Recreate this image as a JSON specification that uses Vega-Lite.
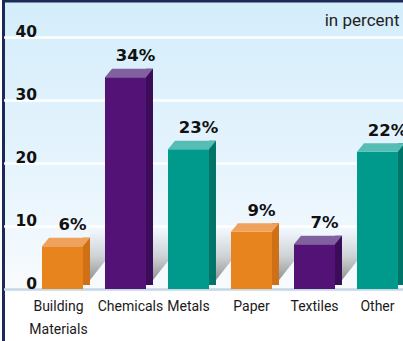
{
  "$schema": "https://vega.github.io/schema/vega-lite/v6.json",
  "width": 399.5,
  "height": 340,
  "padding": {"left": 3.5, "top": 1, "right": 0, "bottom": 0},
  "autosize": {"type": "none"},
  "background": "white",
  "view": {
    "fill": {"gradient": "linear", "x1": 0, "y1": 0, "x2": 0, "y2": 1,
      "stops": [
        {"offset": 0, "color": "#d4edfb"},
        {"offset": 0.5, "color": "#e6f4fd"},
        {"offset": 0.846, "color": "#f8fbfe"},
        {"offset": 0.847, "color": "#ffffff"},
        {"offset": 1, "color": "#ffffff"}
      ]},
    "stroke": "#1d2a57",
    "strokeWidth": 3,
    "strokeDash": [399.5, 739.5, 340, 10]
  },
  "data": {"values": [
    {"category": "Building Materials", "value": 6.8, "label": "6%"},
    {"category": "Chemicals", "value": 33.6, "label": "34%"},
    {"category": "Metals", "value": 22.2, "label": "23%"},
    {"category": "Paper", "value": 9.1, "label": "9%"},
    {"category": "Textiles", "value": 7.1, "label": "7%"},
    {"category": "Other", "value": 21.8, "label": "22%"}
  ]},
  "encoding": {
    "x": {
      "field": "category", "type": "nominal", "sort": null,
      "scale": {"paddingInner": 0.3492, "paddingOuter": 0.3452, "align": 0.885},
      "axis": {
        "orient": "bottom", "offset": -52, "title": null, "domain": false, "ticks": false,
        "labelPadding": 10, "labelFont": "Roboto", "labelFontSize": 14,
        "labelColor": "#1a1a1a", "labelLineHeight": 23, "labelAngle": 0,
        "labelBaseline": "top", "labelOverlap": false, "labelBound": false,
        "labelOffset": {"expr": "datum.value == 'Chemicals' ? 5 : datum.value == 'Building Materials' ? -4 : 0"},
        "labelExpr": "datum.value == 'Building Materials' ? ['Building', 'Materials'] : datum.label"
      }
    }
  },
  "layer": [
    {
      "mark": {"type": "point", "shape": "M 1 0 L 2.46 -1.85 L 2.46 -2.9 L 1.34 -2.9 L 1.34 -0.42 Z",
        "size": 1681, "filled": true, "opacity": 1, "strokeWidth": 0,
        "color": {"gradient": "linear", "x1": 0, "y1": 0, "x2": 0, "y2": 1,
          "stops": [
            {"offset": 0, "color": "rgba(110,110,110,0)"},
            {"offset": 0.45, "color": "rgba(110,110,110,0.28)"},
            {"offset": 1, "color": "rgba(95,95,95,0.85)"}
          ]}},
      "encoding": {
        "y": {"datum": 0, "type": "quantitative", "title": null,
          "scale": {"domain": [-8.254, 45.714], "nice": false, "zero": false},
          "axis": {
            "values": [0, 10, 20, 30, 40], "title": null, "domain": false, "ticks": false,
            "offset": -36, "labelPadding": 3, "labelFont": "DejaVu Sans", "labelFontWeight": "bold",
            "labelFontSize": 15.5, "labelColor": "#111111", "labelBaseline": "alphabetic", "labelAlign": "right",
            "grid": true, "gridWidth": 2.5, "gridOpacity": 1,
            "gridColor": {"expr": "datum.value == 0 ? '#c4d7e6' : '#ffffff'"}
          }}
      }
    },
    {
      "mark": {"type": "bar", "width": 7, "xOffset": 24, "yOffset": -8.5, "y2Offset": -4},
      "encoding": {
        "y": {"field": "value", "type": "quantitative", "title": null,
          "scale": {"domain": [-8.254, 45.714], "nice": false, "zero": false},
          "axis": {
            "values": [0, 10, 20, 30, 40], "title": null, "domain": false, "ticks": false,
            "offset": -36, "labelPadding": 3, "labelFont": "DejaVu Sans", "labelFontWeight": "bold",
            "labelFontSize": 15.5, "labelColor": "#111111", "labelBaseline": "alphabetic", "labelAlign": "right",
            "grid": true, "gridWidth": 2.5, "gridOpacity": 1,
            "gridColor": {"expr": "datum.value == 0 ? '#c4d7e6' : '#ffffff'"}
          }},
        "y2": {"datum": 0},
        "color": {"field": "category", "type": "nominal", "legend": null,
          "scale": {"domain": ["Building Materials", "Chemicals", "Metals", "Paper", "Textiles", "Other"],
            "range": ["#cf7016", "#3b0c58", "#007468", "#cf7016", "#3b0c58", "#007468"]}}
      }
    },
    {
      "mark": {"type": "bar"},
      "encoding": {
        "y": {"field": "value", "type": "quantitative", "title": null,
          "scale": {"domain": [-8.254, 45.714], "nice": false, "zero": false},
          "axis": {
            "values": [0, 10, 20, 30, 40], "title": null, "domain": false, "ticks": false,
            "offset": -36, "labelPadding": 3, "labelFont": "DejaVu Sans", "labelFontWeight": "bold",
            "labelFontSize": 15.5, "labelColor": "#111111", "labelBaseline": "alphabetic", "labelAlign": "right",
            "grid": true, "gridWidth": 2.5, "gridOpacity": 1,
            "gridColor": {"expr": "datum.value == 0 ? '#c4d7e6' : '#ffffff'"}
          }},
        "y2": {"datum": 0},
        "color": {"field": "category", "type": "nominal", "legend": null,
          "scale": {"domain": ["Building Materials", "Chemicals", "Metals", "Paper", "Textiles", "Other"],
            "range": ["#e8841e", "#521276", "#009a8c", "#e8841e", "#521276", "#009a8c"]}}
      }
    },
    {
      "mark": {"type": "point", "shape": "M -1 0 L 1 0 L 1.3415 -0.415 L -0.6585 -0.415 Z",
        "size": 1681, "filled": true, "opacity": 1, "strokeWidth": 0},
      "encoding": {
        "y": {"field": "value", "type": "quantitative", "title": null,
          "scale": {"domain": [-8.254, 45.714], "nice": false, "zero": false},
          "axis": {
            "values": [0, 10, 20, 30, 40], "title": null, "domain": false, "ticks": false,
            "offset": -36, "labelPadding": 3, "labelFont": "DejaVu Sans", "labelFontWeight": "bold",
            "labelFontSize": 15.5, "labelColor": "#111111", "labelBaseline": "alphabetic", "labelAlign": "right",
            "grid": true, "gridWidth": 2.5, "gridOpacity": 1,
            "gridColor": {"expr": "datum.value == 0 ? '#c4d7e6' : '#ffffff'"}
          }},
        "color": {"field": "category", "type": "nominal", "legend": null,
          "scale": {"domain": ["Building Materials", "Chemicals", "Metals", "Paper", "Textiles", "Other"],
            "range": ["#f0a25d", "#80609f", "#55bdb3", "#f0a25d", "#80609f", "#55bdb3"]}}
      }
    },
    {
      "mark": {"type": "text", "font": "DejaVu Sans", "fontWeight": "bold", "fontSize": 16.5,
        "dx": 10, "dy": -16, "baseline": "alphabetic", "align": "center", "color": "#111111"},
      "encoding": {
        "y": {"field": "value", "type": "quantitative", "title": null,
          "scale": {"domain": [-8.254, 45.714], "nice": false, "zero": false},
          "axis": {
            "values": [0, 10, 20, 30, 40], "title": null, "domain": false, "ticks": false,
            "offset": -36, "labelPadding": 3, "labelFont": "DejaVu Sans", "labelFontWeight": "bold",
            "labelFontSize": 15.5, "labelColor": "#111111", "labelBaseline": "alphabetic", "labelAlign": "right",
            "grid": true, "gridWidth": 2.5, "gridOpacity": 1,
            "gridColor": {"expr": "datum.value == 0 ? '#c4d7e6' : '#ffffff'"}
          }},
        "text": {"field": "label"}
      }
    },
    {
      "data": {"values": [{"note": "in percent"}]},
      "mark": {"type": "text", "font": "Roboto", "fontSize": 17, "fontWeight": "normal",
        "align": "right", "baseline": "alphabetic", "dx": 22, "color": "#222222"},
      "encoding": {
        "text": {"field": "note"},
        "x": {"datum": "Other", "type": "nominal",
          "axis": {
            "orient": "bottom", "offset": -52, "title": null, "domain": false, "ticks": false,
            "labelPadding": 10, "labelFont": "Roboto", "labelFontSize": 14,
            "labelColor": "#1a1a1a", "labelLineHeight": 23, "labelAngle": 0,
            "labelBaseline": "top", "labelOverlap": false, "labelBound": false,
            "labelOffset": {"expr": "datum.value == 'Chemicals' ? 5 : datum.value == 'Building Materials' ? -4 : 0"},
            "labelExpr": "datum.value == 'Building Materials' ? ['Building', 'Materials'] : datum.label"
          }},
        "y": {"datum": 41.75, "type": "quantitative", "title": null,
          "scale": {"domain": [-8.254, 45.714], "nice": false, "zero": false},
          "axis": {
            "values": [0, 10, 20, 30, 40], "title": null, "domain": false, "ticks": false,
            "offset": -36, "labelPadding": 3, "labelFont": "DejaVu Sans", "labelFontWeight": "bold",
            "labelFontSize": 15.5, "labelColor": "#111111", "labelBaseline": "alphabetic", "labelAlign": "right",
            "grid": true, "gridWidth": 2.5, "gridOpacity": 1,
            "gridColor": {"expr": "datum.value == 0 ? '#c4d7e6' : '#ffffff'"}
          }}
      }
    }
  ],
  "resolve": {"scale": {"color": "independent"}}
}
